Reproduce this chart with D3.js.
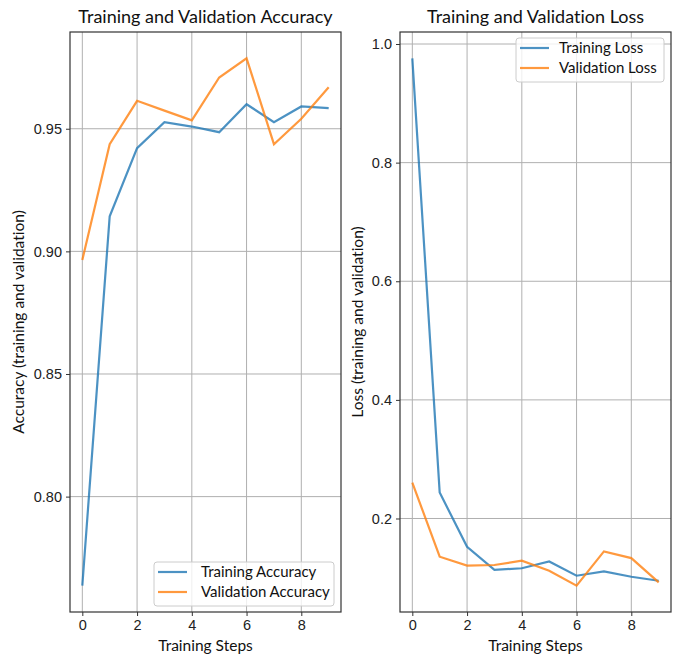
<!DOCTYPE html>
<html>
<head>
<meta charset="utf-8">
<script src="https://cdn.jsdelivr.net/npm/d3@7"></script>
<style>
  body { margin: 0; background: #fff; }
  svg { font-family: Lato, "Open Sans", sans-serif; font-variant-ligatures: none; }
</style>
</head>
<body>
<div id="chart"></div>
<script>
const steps = [0, 1, 2, 3, 4, 5, 6, 7, 8, 9];
const trainAcc = [0.7637, 0.9143, 0.9421, 0.9527, 0.9509, 0.9486, 0.9600, 0.9527, 0.9591, 0.9584];
const valAcc   = [0.8965, 0.9437, 0.9614, 0.9574, 0.9534, 0.9709, 0.9787, 0.9437, 0.9541, 0.9669];
const trainLoss = [0.9758, 0.2437, 0.1524, 0.1134, 0.1161, 0.1276, 0.1035, 0.1107, 0.1018, 0.0950];
const valLoss   = [0.2605, 0.1356, 0.1205, 0.1216, 0.1288, 0.1120, 0.0868, 0.1445, 0.1333, 0.0922];
const xTicks = [0, 2, 4, 6, 8];
const accTicks = [0.80, 0.85, 0.90, 0.95];
const lossTicks = [0.2, 0.4, 0.6, 0.8, 1.0];

const width = 678, height = 658;
const blue = "#1f77b4", orange = "#ff7f0e";

const svg = d3.select("#chart").append("svg")
    .attr("width", width)
    .attr("height", height);

// matplotlib-style 5% margins
function padded(lo, hi) {
    const r = hi - lo;
    return [lo - 0.05 * r, hi + 0.05 * r];
}

function panel(opts) {
    const { left, right, top, bottom } = opts;
    const g = svg.append("g");

    const x = d3.scaleLinear()
        .domain(padded(d3.min(steps), d3.max(steps)))
        .range([left, right]);
    const all = opts.series.flatMap(s => s.values);
    const y = d3.scaleLinear()
        .domain(padded(d3.min(all), d3.max(all)))
        .range([bottom, top]);

    // grid
    g.append("g").selectAll("line").data(xTicks).join("line")
        .attr("x1", d => x(d)).attr("x2", d => x(d))
        .attr("y1", top).attr("y2", bottom)
        .attr("stroke", "#b0b0b0").attr("stroke-width", 1);
    g.append("g").selectAll("line").data(opts.yTicks).join("line")
        .attr("x1", left).attr("x2", right)
        .attr("y1", d => y(d)).attr("y2", d => y(d))
        .attr("stroke", "#b0b0b0").attr("stroke-width", 1);

    // axes
    const xAxis = g.append("g")
        .attr("transform", `translate(0,${bottom})`)
        .call(d3.axisBottom(x).tickValues(xTicks).tickSize(4).tickPadding(4).tickFormat(d3.format("d")));
    const yAxis = g.append("g")
        .attr("transform", `translate(${left},0)`)
        .call(d3.axisLeft(y).tickValues(opts.yTicks).tickSize(4).tickPadding(4).tickFormat(opts.yFormat));
    [xAxis, yAxis].forEach(a => {
        a.select(".domain").remove();
        a.selectAll("line").attr("stroke", "#333");
        a.selectAll("text").attr("fill", "#222").style("font-size", "14.5px");
    });

    // lines
    const line = vals => d3.line()
        .x((d, i) => x(steps[i]))
        .y(d => y(d))(vals);
    opts.series.forEach(s => {
        g.append("path")
            .attr("d", line(s.values))
            .attr("fill", "none")
            .attr("stroke", s.color)
            .attr("stroke-opacity", 0.8)
            .attr("stroke-width", 2.2);
    });

    // frame
    g.append("rect")
        .attr("x", left).attr("y", top)
        .attr("width", right - left).attr("height", bottom - top)
        .attr("fill", "none").attr("stroke", "#333").attr("stroke-width", 1.2);

    // title and labels
    g.append("text")
        .attr("x", (left + right) / 2).attr("y", 23)
        .attr("text-anchor", "middle")
        .style("font-size", "18px").attr("fill", "#111")
        .text(opts.title);
    g.append("text")
        .attr("x", (left + right) / 2).attr("y", 651)
        .attr("text-anchor", "middle")
        .style("font-size", "15.5px").attr("fill", "#111")
        .text("Training Steps");
    g.append("text")
        .attr("transform", `translate(${opts.yLabelX},${(top + bottom) / 2}) rotate(-90)`)
        .attr("text-anchor", "middle")
        .style("font-size", "15.5px").attr("fill", "#111")
        .text(opts.yLabel);

    // legend
    const lg = g.append("g").attr("transform", `translate(${opts.legend[0]},${opts.legend[1]})`);
    lg.append("rect")
        .attr("width", opts.legendW).attr("height", 44).attr("rx", 3)
        .attr("fill", "#fff").attr("fill-opacity", 0.8)
        .attr("stroke", "#ccc");
    opts.series.forEach((s, i) => {
        const yy = 10 + i * 20;
        lg.append("line")
            .attr("x1", 4).attr("x2", 33).attr("y1", yy).attr("y2", yy)
            .attr("stroke", s.color).attr("stroke-opacity", 0.8).attr("stroke-width", 2.2);
        lg.append("text")
            .attr("x", opts.legendText).attr("y", yy).attr("dy", "0.35em")
            .style("font-size", "15px").attr("fill", "#111")
            .text(s.name);
    });
}

panel({
    left: 70, right: 341, top: 32, bottom: 612,
    title: "Training and Validation Accuracy",
    yLabel: "Accuracy (training and validation)", yLabelX: 24,
    yTicks: accTicks, yFormat: d3.format(".2f"),
    series: [
        { name: "Training Accuracy", values: trainAcc, color: blue },
        { name: "Validation Accuracy", values: valAcc, color: orange }
    ],
    legend: [154, 562], legendW: 180, legendText: 47
});

panel({
    left: 400, right: 671, top: 32, bottom: 612,
    title: "Training and Validation Loss",
    yLabel: "Loss (training and validation)", yLabelX: 363,
    yTicks: lossTicks, yFormat: d3.format(".1f"),
    series: [
        { name: "Training Loss", values: trainLoss, color: blue },
        { name: "Validation Loss", values: valLoss, color: orange }
    ],
    legend: [516, 38], legendW: 148, legendText: 43
});
</script>
</body>
</html>
